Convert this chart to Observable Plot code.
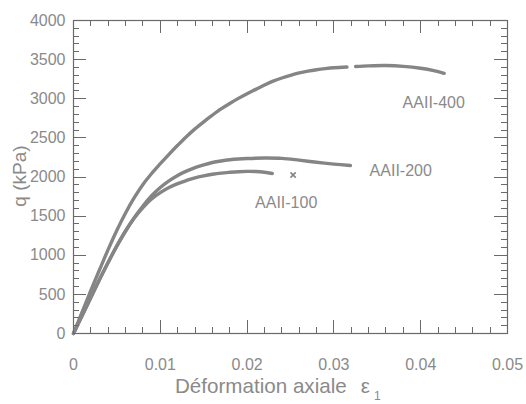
<!DOCTYPE html>
<html>
<head>
<meta charset="utf-8">
<script src="https://cdn.jsdelivr.net/npm/d3@7"></script>
<script src="https://cdn.jsdelivr.net/npm/@observablehq/plot@0.6"></script>
<style>
  html, body { margin: 0; padding: 0; background: #fff; }
  #chart svg { display: block; }
</style>
</head>
<body>
<div id="chart"></div>
<script>
// ---- Data ----
const eps400 = [0, 0.001, 0.002, 0.003, 0.004, 0.005, 0.006, 0.007, 0.008, 0.009, 0.010, 0.011, 0.012, 0.013, 0.014, 0.015, 0.016, 0.017, 0.018, 0.019, 0.020, 0.021, 0.022, 0.023, 0.024, 0.025, 0.026, 0.027, 0.028, 0.029, 0.030, 0.0315, null, 0.0325, 0.034, 0.036, 0.038, 0.040, 0.0415, 0.0427];
const q400   = [0, 275, 550, 815, 1075, 1320, 1540, 1735, 1905, 2045, 2170, 2290, 2405, 2515, 2615, 2705, 2790, 2870, 2940, 3005, 3065, 3120, 3175, 3225, 3265, 3300, 3330, 3353, 3371, 3385, 3396, 3405, null, 3412, 3420, 3424, 3414, 3390, 3360, 3325];

const eps200 = [0, 0.001, 0.002, 0.003, 0.004, 0.005, 0.006, 0.007, 0.008, 0.009, 0.010, 0.011, 0.012, 0.013, 0.014, 0.015, 0.016, 0.017, 0.018, 0.019, 0.020, 0.022, 0.024, 0.026, 0.028, 0.030, 0.0319];
const q200   = [0, 230, 460, 690, 910, 1120, 1310, 1480, 1630, 1760, 1865, 1950, 2020, 2075, 2120, 2155, 2185, 2205, 2220, 2230, 2236, 2242, 2238, 2215, 2188, 2165, 2147];

const eps100 = [0, 0.001, 0.002, 0.003, 0.004, 0.005, 0.006, 0.007, 0.008, 0.009, 0.010, 0.011, 0.012, 0.013, 0.014, 0.015, 0.016, 0.017, 0.018, 0.019, 0.020, 0.021, 0.022, 0.0229];
const q100   = [0, 230, 460, 690, 910, 1120, 1310, 1475, 1610, 1720, 1800, 1865, 1915, 1955, 1990, 2015, 2035, 2050, 2060, 2068, 2072, 2070, 2060, 2045];

const eps100Extra = [0.0253];
const q100Extra   = [2025];

const seriesNames = ["AAII-400", "AAII-200", "AAII-100"];
const labelEps = [0.0415, 0.0377, 0.0245];
const labelQ   = [2952, 2083, 1674];

const xTickValues = [0, 0.01, 0.02, 0.03, 0.04, 0.05];
const xTickLabels = ["0", "0.01", "0.02", "0.03", "0.04", "0.05"];
const yTickValues = [0, 500, 1000, 1500, 2000, 2500, 3000, 3500, 4000];
const yTickLabels = ["0", "500", "1000", "1500", "2000", "2500", "3000", "3500", "4000"];

const xTitle = "Déformation axiale";
const xTitleSymbol = "ε";
const xTitleSub = "1";
const yTitle = "q (kPa)";

// ---- Build tables ----
const toRows = (name, xs, ys) => xs.map((x, i) => ({series: name, eps: x, q: ys[i]}));
const curves = [
  ...toRows(seriesNames[0], eps400, q400),
  ...toRows(seriesNames[1], eps200, q200),
  ...toRows(seriesNames[2], eps100, q100)
];
const extra = toRows(seriesNames[2], eps100Extra, q100Extra);
const labels = seriesNames.map((s, i) => ({text: s, eps: labelEps[i], q: labelQ[i]}));

const xMinor = d3.range(0, 0.0501, 0.002);
const yMinor = d3.range(0, 4001, 100);

const W = 526, H = 404, ML = 73, MR = 19, MT = 20, MB = 71;

const frameColor = "#6a6a6a";
const textColor = "#8a8a8a";
const curveColor = "#858585";
const fontFamily = "'Liberation Sans', Arial, Helvetica, sans-serif";

const chart = Plot.plot({
  width: W,
  height: H,
  marginLeft: ML,
  marginRight: MR,
  marginTop: MT,
  marginBottom: MB,
  style: {fontFamily, background: "#fff", color: textColor},
  x: {domain: [0, 0.05]},
  y: {domain: [0, 4000]},
  marks: [
    Plot.frame({stroke: frameColor, strokeWidth: 1.2, fill: "none"}),
    Plot.axisX({anchor: "bottom", ticks: xTickValues, tickSize: 0, tickPadding: 25,
      tickFormat: (d, i) => xTickLabels[i], label: null, fontSize: 16, fill: textColor}),
    Plot.axisY({anchor: "left", ticks: yTickValues, tickSize: 0, tickPadding: 8,
      tickFormat: (d, i) => yTickLabels[i], label: null, fontSize: 16, fill: textColor}),
    Plot.line(curves, {x: "eps", y: "q", z: "series", stroke: curveColor, strokeWidth: 3.4,
      strokeLinecap: "round", strokeLinejoin: "round", curve: "catmull-rom"}),
    Plot.dot(extra, {x: "eps", y: "q", symbol: "times", r: 2.5, stroke: curveColor, strokeWidth: 1.6}),
    Plot.text(labels, {x: "eps", y: "q", text: "text", fontSize: 16, fill: textColor})
  ]
});

// ---- inward ticks on all four sides, positioned through Plot's own scales ----
const sx = chart.scale("x"), sy = chart.scale("y");
const svgSel = d3.select(chart);
const edgeLeft = ML, edgeRight = W - MR, edgeTop = MT, edgeBottom = H - MB;
const tickG = svgSel.append("g").attr("stroke", frameColor).attr("stroke-width", 1);
const addX = (values, size) => values.forEach(v => {
  const px = Math.round(sx.apply(v)) + 0.5;
  tickG.append("line").attr("x1", px).attr("x2", px).attr("y1", edgeBottom).attr("y2", edgeBottom - size);
  tickG.append("line").attr("x1", px).attr("x2", px).attr("y1", edgeTop).attr("y2", edgeTop + size);
});
const addY = (values, size) => values.forEach(v => {
  const py = Math.round(sy.apply(v)) + 0.5;
  tickG.append("line").attr("y1", py).attr("y2", py).attr("x1", edgeLeft).attr("x2", edgeLeft + size);
  tickG.append("line").attr("y1", py).attr("y2", py).attr("x1", edgeRight).attr("x2", edgeRight - size);
});
addX(xMinor, 6);
addX(xTickValues, 13);
addY(yMinor, 6);
addY(yTickValues, 13);

const xt = svgSel.append("text")
  .attr("x", 175).attr("y", 393)
  .attr("text-anchor", "start")
  .attr("font-family", fontFamily)
  .attr("font-size", 20.6).attr("fill", textColor);
xt.append("tspan").text(xTitle);
xt.append("tspan").attr("dx", 14).text(xTitleSymbol);
xt.append("tspan").attr("dx", 4).attr("dy", 7).attr("font-size", 12).text(xTitleSub);

svgSel.append("text")
  .attr("transform", "translate(26,176) rotate(-90)")
  .attr("text-anchor", "middle")
  .attr("font-family", fontFamily)
  .attr("font-size", 19).attr("fill", textColor)
  .text(yTitle);

document.getElementById("chart").appendChild(chart);
</script>
</body>
</html>
